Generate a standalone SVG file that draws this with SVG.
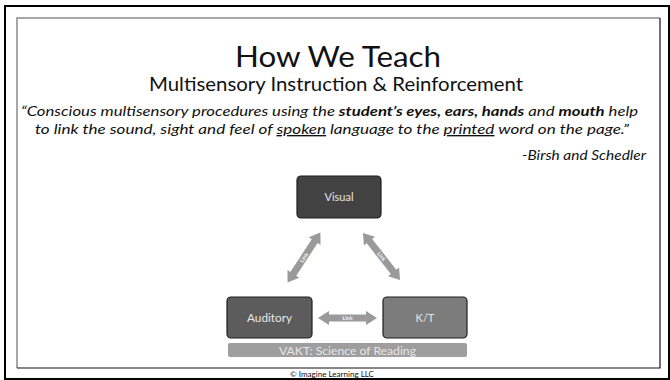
<svg xmlns="http://www.w3.org/2000/svg" width="670" height="380" viewBox="0 0 670 380">
<style>
.t{font-family:Lato,"Noto Sans","Liberation Sans",sans-serif;fill:#111}
.q{font-family:Lato,"Noto Sans","Liberation Sans",sans-serif;font-style:italic;font-size:13.5px;fill:#111}
.b{font-weight:bold}
.u{text-decoration:underline}
.node rect{stroke:#1e1e1e;stroke-width:1.2}
.lbl{font-family:Lato,"Noto Sans","Liberation Sans",sans-serif;font-size:11px;fill:#e6e6e6;text-anchor:middle}
.arr{fill:#9a9a9a}
.lk{font-family:Lato,"Noto Sans","Liberation Sans",sans-serif;font-size:5.5px;font-weight:bold;fill:#f2f2f2;text-anchor:middle}
</style>
<rect x="0" y="0" width="670" height="380" fill="#fff"/>
<rect x="5" y="6" width="664" height="373" fill="none" stroke="#000" stroke-width="2"/>
<polyline points="17,368 17,18 660,18" fill="none" stroke="#8a8a8a" stroke-width="1.5"/>
<polyline points="660,18 660,368 17,368" fill="none" stroke="#111" stroke-width="1.2"/>
<text class="t" x="338" y="67" font-size="29" text-anchor="middle" textLength="206" lengthAdjust="spacingAndGlyphs">How We Teach</text>
<text class="t" x="336" y="91" font-size="19" text-anchor="middle" textLength="374" lengthAdjust="spacingAndGlyphs">Multisensory Instruction &amp; Reinforcement</text>
<text class="q" x="21" y="116" textLength="617" lengthAdjust="spacingAndGlyphs">“Conscious multisensory procedures using the <tspan class="b">student’s eyes, ears, hands</tspan> and <tspan class="b">mouth</tspan> help</text>
<text class="q" x="35" y="134" textLength="594" lengthAdjust="spacingAndGlyphs">to link the sound, sight and feel of <tspan class="u">spoken</tspan> language to the <tspan class="u">printed</tspan> word on the page.”</text>
<text class="q" x="646" y="160" text-anchor="end" textLength="124" lengthAdjust="spacingAndGlyphs">-Birsh and Schedler</text>
<g id="connectors">
<g transform="translate(304,257.5) rotate(-56.8)">
<path class="arr" d="M-30 0 L-19.5 -7 L-19.5 -3.5 L19.5 -3.5 L19.5 -7 L30 0 L19.5 7 L19.5 3.5 L-19.5 3.5 L-19.5 7 Z"/>
<text class="lk" x="0" y="2">Link</text>
</g>
<g transform="translate(381.5,256.5) rotate(51.8)">
<path class="arr" d="M-30 0 L-19.5 -7 L-19.5 -3.5 L19.5 -3.5 L19.5 -7 L30 0 L19.5 7 L19.5 3.5 L-19.5 3.5 L-19.5 7 Z"/>
<text class="lk" x="0" y="2">Link</text>
</g>
<g transform="translate(347.5,318)">
<path class="arr" d="M-29.5 0 L-18.5 -7 L-18.5 -3.5 L18.5 -3.5 L18.5 -7 L29.5 0 L18.5 7 L18.5 3.5 L-18.5 3.5 L-18.5 7 Z"/>
<text class="lk" x="0" y="2">Link</text>
</g>
</g>
<g id="visual" class="node">
<rect x="297" y="176" width="84" height="42" rx="4" fill="#424242"/>
<text class="lbl" x="339" y="201">Visual</text>
</g>
<g id="auditory" class="node">
<rect x="227" y="297" width="85" height="41" rx="4" fill="#5c5c5c"/>
<text class="lbl" x="269.5" y="321.5" textLength="45" lengthAdjust="spacingAndGlyphs">Auditory</text>
</g>
<g id="kt" class="node">
<rect x="383" y="297" width="84" height="41" rx="4" fill="#7c7c7c"/>
<text class="lbl" x="425" y="321.5" font-size="12">K/T</text>
</g>
<g id="vakt">
<rect x="228" y="343" width="239" height="14" rx="2" fill="#9e9e9e"/>
<text class="lbl" x="347.5" y="354.5" font-size="12.5" fill="#f0f0f0" textLength="137" lengthAdjust="spacingAndGlyphs">VAKT: Science of Reading</text>
</g>
<text class="t" x="332" y="376.5" font-size="8" text-anchor="middle" textLength="84" lengthAdjust="spacingAndGlyphs">© Imagine Learning LLC</text>
</svg>
